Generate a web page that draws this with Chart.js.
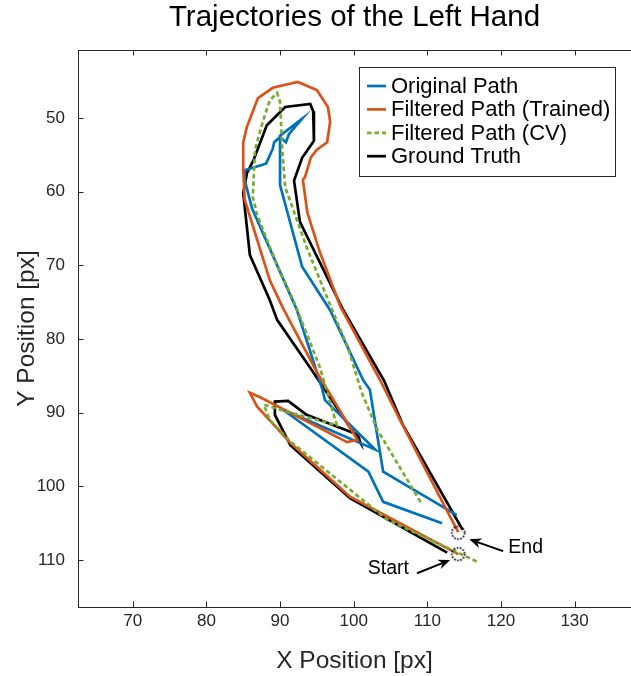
<!DOCTYPE html>
<html>
<head>
<meta charset="utf-8">
<title>Trajectories of the Left Hand</title>
<script src="https://cdn.jsdelivr.net/npm/chart.js@4.4.1/dist/chart.umd.min.js"></script>
<style>
    html, body { margin: 0; padding: 0; background: #fff; overflow: hidden; }
    #wrap { width: 631px; height: 676px; }
</style>
</head>
<body>
<div id="wrap"><canvas id="trajChart" width="631" height="676"></canvas></div>
<script>
// ------------------- AXES -------------------
const xTicks = [70, 80, 90, 100, 110, 120, 130];
const yTicks = [50, 60, 70, 80, 90, 100, 110];
const xRange = [62.56, 137.66];
const yRange = [40.77, 116.38];

// ------------------- SERIES -------------------
const originalX = [112.0, 104.0, 102.0, 90.4, 102.9, 96.1, 95.7, 92.3, 86.2, 85.2, 85.2, 88.1, 89.0, 89.2, 90.0, 90.8, 91.2, 93.0, 90.0, 90.0, 93.0, 96.8, 101.3, 102.2, 104.0, 114.0];
const originalY = [105.0, 102.1, 98.0, 89.6, 95.0, 88.3, 86.7, 76.1, 62.3, 58.4, 57.1, 56.2, 54.2, 53.3, 52.6, 53.3, 52.2, 50.1, 52.4, 59.1, 70.2, 76.1, 85.6, 86.9, 98.0, 103.9];

const trainedX = [114.2, 99.5, 91.4, 86.9, 85.9, 87.3, 99.1, 100.5, 95.0, 90.4, 88.6, 86.6, 85.2, 85.0, 85.0, 85.5, 87.0, 89.0, 92.4, 95.0, 96.5, 96.8, 96.4, 95.0, 94.2, 93.4, 93.1, 93.7, 95.4, 98.2, 103.6, 106.3, 112.4, 114.2];
const trainedY = [109.2, 101.4, 94.1, 89.2, 87.3, 87.9, 94.0, 93.7, 84.5, 75.8, 72.0, 65.6, 61.1, 57.1, 53.3, 51.2, 47.3, 45.9, 45.1, 46.2, 48.5, 50.5, 53.3, 54.3, 55.3, 58.0, 58.4, 62.8, 68.2, 75.6, 85.6, 91.0, 102.8, 106.2];

const cvX = [116.7, 104.5, 91.4, 88.6, 87.8, 91.0, 97.7, 95.4, 91.8, 89.7, 86.9, 86.3, 86.6, 87.6, 88.6, 89.6, 90.0, 90.3, 90.7, 93.6, 96.8, 99.2, 101.1, 103.2, 109.3];
const cvY = [110.2, 104.5, 93.9, 91.0, 88.9, 89.9, 91.7, 83.8, 74.7, 70.2, 63.2, 60.7, 54.3, 50.7, 47.6, 46.6, 47.8, 54.3, 59.4, 67.5, 75.4, 81.1, 87.3, 92.3, 102.5];

const truthX = [112.7, 99.5, 91.4, 89.3, 89.3, 91.1, 93.6, 100.6, 100.9, 94.3, 89.6, 88.6, 85.9, 85.0, 85.5, 86.4, 88.2, 90.7, 94.1, 94.5, 94.6, 93.0, 91.9, 92.7, 98.6, 104.1, 106.7, 114.8];
const truthY = [109.0, 101.6, 94.4, 90.3, 88.5, 88.4, 90.3, 93.0, 94.1, 84.2, 77.4, 74.7, 68.6, 60.2, 57.5, 55.7, 51.0, 48.5, 48.1, 49.1, 53.1, 55.4, 58.5, 64.1, 76.1, 85.6, 91.7, 105.9];

// start / end of the filtered path
const markerX = [114.2, 114.2];
const markerY = [109.2, 106.3];

// annotation arrows: [tailX, tailY, tipX, tipY]
const startArrow = [108.6, 111.8, 113.1, 110.0];
const endArrow = [120.3, 108.8, 115.7, 107.2];
const startLabel = [107.5, 111.2];
const endLabel = [121.0, 108.3];

const fontFamily = "'Liberation Sans', Arial, Helvetica, sans-serif";
const axisColor = '#262626';

function toPoints(xs, ys) {
    return xs.map((v, i) => ({ x: v, y: ys[i] }));
}

// dotted circle used as the marker symbol
function dottedCircle() {
    const c = document.createElement('canvas');
    c.width = 18;
    c.height = 18;
    const g = c.getContext('2d');
    g.strokeStyle = '#000';
    g.lineWidth = 1.7;
    g.setLineDash([1.6, 1.5]);
    g.beginPath();
    g.arc(9, 9, 6.4, 0, Math.PI * 2);
    g.stroke();
    return c;
}

function drawArrow(ctx, x1, y1, x2, y2) {
    const ang = Math.atan2(y2 - y1, x2 - x1);
    const len = 12, half = 5;
    ctx.strokeStyle = '#000';
    ctx.lineWidth = 2;
    ctx.beginPath();
    ctx.moveTo(x1, y1);
    ctx.lineTo(x2 - Math.cos(ang) * len * 0.7, y2 - Math.sin(ang) * len * 0.7);
    ctx.stroke();
    ctx.save();
    ctx.translate(x2, y2);
    ctx.rotate(ang);
    ctx.beginPath();
    ctx.moveTo(0, 0);
    ctx.lineTo(-len, -half);
    ctx.lineTo(-len * 0.7, 0);
    ctx.lineTo(-len, half);
    ctx.closePath();
    ctx.fillStyle = '#000';
    ctx.fill();
    ctx.restore();
}

function noPadding(s) {
    s.paddingLeft = 0;
    s.paddingRight = 0;
    s.paddingTop = 0;
    s.paddingBottom = 0;
}

// ------------------- PLUGINS -------------------
const axesBox = {
    id: 'axesBox',
    afterDatasetsDraw(chart) {
        const { ctx, chartArea: a, scales: { x, y } } = chart;
        ctx.save();
        ctx.strokeStyle = axisColor;
        ctx.lineWidth = 1;
        ctx.beginPath();
        ctx.moveTo(a.left, a.top + 0.5);
        ctx.lineTo(a.right, a.top + 0.5);
        xTicks.forEach(v => {
            const px = Math.round(x.getPixelForValue(v)) + 0.5;
            ctx.moveTo(px, a.bottom);
            ctx.lineTo(px, a.bottom - 5.5);
            ctx.moveTo(px, a.top);
            ctx.lineTo(px, a.top + 5.5);
        });
        yTicks.forEach(v => {
            const py = Math.round(y.getPixelForValue(v)) + 0.5;
            ctx.moveTo(a.left, py);
            ctx.lineTo(a.left + 5.5, py);
        });
        ctx.stroke();
        ctx.restore();
    }
};

const annotations = {
    id: 'annotations',
    afterDatasetsDraw(chart) {
        const { ctx, scales: { x, y } } = chart;
        ctx.save();
        drawArrow(ctx, x.getPixelForValue(startArrow[0]), y.getPixelForValue(startArrow[1]),
            x.getPixelForValue(startArrow[2]), y.getPixelForValue(startArrow[3]));
        drawArrow(ctx, x.getPixelForValue(endArrow[0]), y.getPixelForValue(endArrow[1]),
            x.getPixelForValue(endArrow[2]), y.getPixelForValue(endArrow[3]));
        ctx.font = '19.5px ' + fontFamily;
        ctx.fillStyle = '#000';
        ctx.textBaseline = 'middle';
        ctx.textAlign = 'right';
        ctx.fillText('Start', x.getPixelForValue(startLabel[0]), y.getPixelForValue(startLabel[1]));
        ctx.textAlign = 'left';
        ctx.fillText('End', x.getPixelForValue(endLabel[0]), y.getPixelForValue(endLabel[1]));
        ctx.restore();
    }
};

const legendBox = {
    id: 'legendBox',
    afterDatasetsDraw(chart) {
        const { ctx, chartArea } = chart;
        const items = chart.data.datasets.filter(ds => ds.showLine);
        ctx.save();
        ctx.font = '22px ' + fontFamily;
        const textW = Math.max(...items.map(ds => ctx.measureText(ds.label).width));
        const rowH = 23.4;
        const w = Math.round(31.5 + textW + 5);
        const h = Math.round(rowH * items.length + 15);
        const x0 = Math.round(chartArea.right - 16 - w) + 0.5;
        const y0 = Math.round(chartArea.top + 17) + 0.5;
        ctx.fillStyle = '#fff';
        ctx.fillRect(x0, y0, w, h);
        ctx.strokeStyle = axisColor;
        ctx.lineWidth = 1;
        ctx.strokeRect(x0, y0, w, h);
        items.forEach((ds, i) => {
            const cy = y0 + 18.5 + i * rowH;
            ctx.beginPath();
            ctx.strokeStyle = ds.borderColor;
            ctx.lineWidth = ds.borderWidth;
            ctx.setLineDash(ds.borderDash || []);
            ctx.moveTo(x0 + 7.5, cy);
            ctx.lineTo(x0 + 26.5, cy);
            ctx.stroke();
            ctx.setLineDash([]);
            ctx.fillStyle = '#000';
            ctx.textBaseline = 'middle';
            ctx.textAlign = 'left';
            ctx.fillText(ds.label, x0 + 31.5, cy + 1);
        });
        ctx.restore();
    }
};

// ------------------- CHART -------------------
function buildChart() {
    const ctx = document.getElementById('trajChart').getContext('2d');
    const line = { showLine: true, pointRadius: 0, borderWidth: 2.7, fill: false, tension: 0 };

    new Chart(ctx, {
        type: 'scatter',
        data: {
            datasets: [
                { ...line, label: 'Original Path', data: toPoints(originalX, originalY), borderColor: '#0072BD', order: 3 },
                { ...line, label: 'Filtered Path (Trained)', data: toPoints(trainedX, trainedY), borderColor: '#D95319', order: 2 },
                { ...line, label: 'Filtered Path (CV)', data: toPoints(cvX, cvY), borderColor: '#77AC30', borderDash: [4.5, 3], order: 1 },
                { ...line, label: 'Ground Truth', data: toPoints(truthX, truthY), borderColor: '#000000', order: 4 },
                {
                    label: 'markers', showLine: false, data: toPoints(markerX, markerY),
                    pointStyle: dottedCircle(), pointRadius: 8, order: 0
                }
            ]
        },
        options: {
            responsive: false,
            animation: false,
            events: [],
            layout: { padding: 0, autoPadding: false },
            plugins: {
                legend: { display: false },
                tooltip: { enabled: false },
                title: {
                    display: true,
                    fullSize: false,
                    text: 'Trajectories of the Left Hand',
                    color: '#000',
                    font: { family: fontFamily, size: 29.5, weight: 'normal' },
                    padding: { top: 0, bottom: 14.6 }
                }
            },
            scales: {
                x: {
                    type: 'linear',
                    min: xRange[0],
                    max: xRange[1],
                    afterBuildTicks: s => { s.ticks = xTicks.map(v => ({ value: v })); },
                    afterFit: s => { s.height = 69; noPadding(s); },
                    grid: { display: false, drawTicks: false },
                    border: { display: true, color: axisColor, width: 1 },
                    ticks: { color: axisColor, padding: 4.5, font: { family: fontFamily, size: 17 } },
                    title: {
                        display: true, text: 'X Position [px]', color: axisColor,
                        font: { family: fontFamily, size: 24.5 }, padding: 0
                    }
                },
                y: {
                    type: 'linear',
                    reverse: true,
                    min: yRange[0],
                    max: yRange[1],
                    afterBuildTicks: s => { s.ticks = yTicks.map(v => ({ value: v })); },
                    afterFit: s => { s.width = 78; noPadding(s); },
                    grid: { display: false, drawTicks: false },
                    border: { display: true, color: axisColor, width: 1 },
                    ticks: { color: axisColor, padding: 13, font: { family: fontFamily, size: 17 } },
                    title: {
                        display: true, text: 'Y Position [px]', color: axisColor,
                        font: { family: fontFamily, size: 24.5 }, padding: { top: 12.5, bottom: 0 }
                    }
                }
            }
        },
        plugins: [axesBox, annotations, legendBox]
    });
}

buildChart();
</script>
</body>
</html>
